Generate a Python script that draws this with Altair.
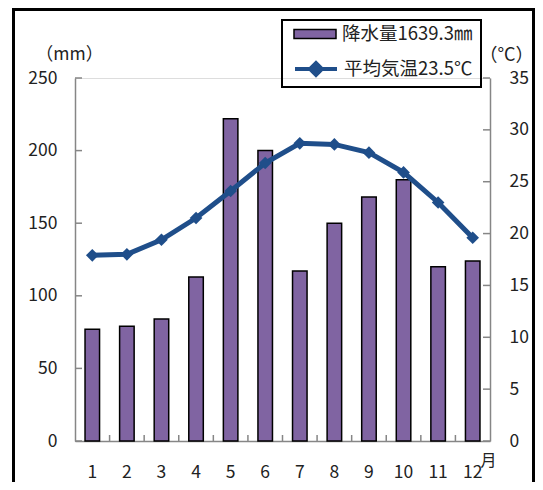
import altair as alt
import pandas as pd

months = list(range(1, 13))
precip = [77, 79, 84, 113, 222, 200, 117, 150, 168, 180, 120, 124]
temp = [17.9, 18.0, 19.4, 21.5, 24.1, 26.8, 28.7, 28.6, 27.8, 25.9, 23.0, 19.6]
left_ticks = [0, 50, 100, 150, 200, 250]
right_ticks = [0, 5, 10, 15, 20, 25, 30, 35]
bar_name = "降水量1639.3㎜"
line_name = "平均気温23.5℃"

W, H = 415, 363
FONT = "Noto Sans CJK JP"
BAR = "#8064A2"
LINE = "#1F4E8A"
AX = "#868686"
TXT = "#222"

df = pd.DataFrame({"month": months, "precip": precip, "temp": temp,
                   "s1": bar_name, "s2": line_name})
lt = pd.DataFrame({"v": left_ticks})
rt = pd.DataFrame({"v": right_ticks})
xt = pd.DataFrame({"month": months[1:]})

xenc = alt.X("month:O", scale=alt.Scale(paddingInner=0, paddingOuter=0),
             axis=alt.Axis(labelAngle=0, ticks=False, domainColor=AX, domainWidth=1.5,
                           labelPadding=22, labelFontSize=17.5, labelFont=FONT, labelColor=TXT,
                           title="月", titleX=413, titleY=19, titleAngle=0, titleAlign="center",
                           titleBaseline="middle", titleFontWeight="normal", titleFontSize=16,
                           titleFont=FONT, titleColor=TXT))

lscale = alt.Scale(domain=[0, 250], nice=False, zero=True)
rscale = alt.Scale(domain=[0, 35], nice=False, zero=True)

frame = alt.Chart(df).mark_rect(filled=False, stroke="black", strokeWidth=3).encode(
    x=alt.value(-61.5), x2=alt.value(458.5), y=alt.value(-69), y2=alt.value(420))

legbox = alt.Chart(df).mark_rect(filled=False, stroke="black", strokeWidth=1.5).encode(
    x=alt.value(207), x2=alt.value(406), y=alt.value(-58), y2=alt.value(9))

bars = alt.Chart(df).mark_bar(width=alt.RelativeBandSize(0.42), stroke="black", strokeWidth=1.5).encode(
    x=xenc,
    y=alt.Y("precip:Q", scale=lscale,
            axis=alt.Axis(orient="left", values=left_ticks, ticks=False, grid=False,
                          domainColor=AX, domainWidth=1.5, labelPadding=18, labelFontSize=17.5,
                          labelFont=FONT, labelColor=TXT,
                          title="（mm）", titleAngle=0, titleX=-6, titleY=-24,
                          titleAlign="center", titleBaseline="middle", titleFontWeight="normal",
                          titleFontSize=17.5, titleFont=FONT, titleColor=TXT)),
    fill=alt.Fill("s1:N", scale=alt.Scale(domain=[bar_name], range=[BAR]),
                  legend=alt.Legend(orient="none", legendX=218, legendY=-66, title=None,
                                    symbolType="M-1,-0.22H1V0.22H-1Z", symbolSize=1764,
                                    symbolStrokeColor="black", symbolStrokeWidth=1.5,
                                    labelFontSize=18.5, labelFont=FONT, labelColor=TXT,
                                    labelOffset=5, padding=0)),
)

line = alt.Chart(df).mark_line(strokeWidth=5).encode(
    x=alt.X("month:O"),
    y=alt.Y("temp:Q", scale=rscale,
            axis=alt.Axis(orient="right", values=right_ticks, ticks=False, grid=False,
                          domainColor=AX, domainWidth=1.5, labelPadding=19, labelFontSize=17.5,
                          labelFont=FONT, labelColor=TXT,
                          title="（°C）", titleAngle=0, titleX=16, titleY=-23,
                          titleAlign="center", titleBaseline="middle", titleFontWeight="normal",
                          titleFontSize=18, titleFont=FONT, titleColor=TXT)),
    stroke=alt.Stroke("s2:N", scale=alt.Scale(domain=[line_name], range=[LINE]),
                      legend=alt.Legend(orient="none", legendX=218, legendY=-32, title=None,
                                        symbolType="M-1,0H1M-0.28,0L0,-0.28L0.28,0L0,0.28Z",
                                        symbolSize=1764, symbolStrokeWidth=4,
                                        symbolFillColor=LINE,
                                        labelFontSize=18.5, labelFont=FONT, labelColor=TXT,
                                        labelOffset=5, padding=0)),
)

pts = alt.Chart(df).mark_point(shape="diamond", filled=True, size=160, opacity=1, color=LINE).encode(
    x=alt.X("month:O"),
    y=alt.Y("temp:Q", scale=rscale, axis=None),
)

lt_rules = alt.Chart(lt).mark_rule(color=AX, strokeWidth=1.5).encode(
    y=alt.Y("v:Q", scale=lscale, axis=None), x=alt.value(0), x2=alt.value(7))
rt_rules = alt.Chart(rt).mark_rule(color=AX, strokeWidth=1.5).encode(
    y=alt.Y("v:Q", scale=rscale, axis=None), x=alt.value(W - 7), x2=alt.value(W))
xt_rules = alt.Chart(xt).mark_rule(color=AX, strokeWidth=1.5).encode(
    x=alt.X("month:O", bandPosition=0), y=alt.value(H - 6), y2=alt.value(H))

chart = alt.layer(frame, legbox, bars, lt_rules, rt_rules, xt_rules, line, pts).resolve_scale(
    y="independent", fill="independent", stroke="independent"
).properties(
    width=W, height=H,
    autosize=alt.AutoSizeParams(type="none"),
    padding={"left": 67, "top": 70, "right": 45, "bottom": 41},
).configure_view(stroke=None).configure(background="white")

chart.save("out.html", embed_options={"renderer": "svg", "actions": False})
